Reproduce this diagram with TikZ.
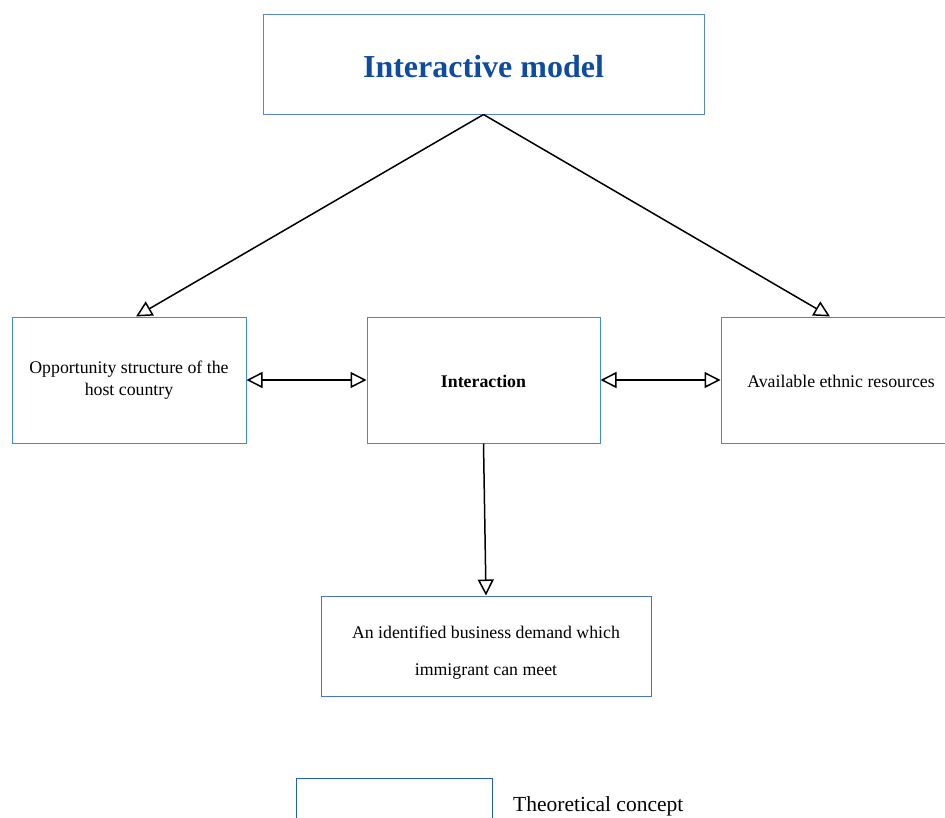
\documentclass[tikz,border=0pt]{standalone}
\usepackage{fontspec}
\setmainfont{Liberation Serif}
\usetikzlibrary{arrows.meta}
\definecolor{titleblue}{HTML}{0F4CA0}
\definecolor{framea}{HTML}{5A87C8}
\definecolor{frameb}{HTML}{3B8CD6}
\definecolor{framec}{HTML}{4A73C0}
\definecolor{framed}{HTML}{2160BC}
\begin{document}
\begin{tikzpicture}[x=1pt,y=-1pt,
  box/.style={draw, line width=1pt, rectangle, align=center, inner sep=0pt,
              font=\fontsize{17.8}{22}\selectfont},
  link/.style={line width=1.5pt, -{Triangle[open,length=16pt,width=16pt]}},
  dlink/.style={line width=1.5pt, {Triangle[open,length=16pt,width=16pt]}-{Triangle[open,length=16pt,width=16pt]}}]
  \useasboundingbox (0,0) rectangle (945,817);

  % title
  \node[box, draw=framea, minimum width=441pt, minimum height=100pt,
        font=\fontsize{32}{36}\selectfont\bfseries, text=titleblue]
        (title) at (483.5,64) {\rule{0pt}{28pt}Interactive model};

  % middle row
  \node[box, draw=frameb, minimum width=234pt, minimum height=126pt]
        (lbox) at (129,380) {Opportunity structure of the\\host country};
  \node[box, draw=frameb, minimum width=233pt, minimum height=126pt,
        font=\fontsize{17.8}{22}\selectfont\bfseries]
        (cbox) at (483.5,380) {\rule{0pt}{16pt}Interaction};
  \node[box, draw=frameb, minimum width=240pt, minimum height=126pt]
        (rbox) at (841,380) {\rule{0pt}{16pt}Available ethnic resources};

  % result
  \node[box, draw=framec, minimum width=330pt, minimum height=100pt,
        font=\fontsize{17.8}{37}\selectfont]
        (bbox) at (486,646) {\rule{0pt}{25pt}An identified business demand which\\immigrant can meet};

  % legend
  \node[box, draw=framed, minimum width=196pt, minimum height=80pt]
        (legend) at (394,818) {};
  \node[anchor=west, inner sep=0pt, font=\fontsize{21.5}{24}\selectfont]
        (legendtext) at (513,806) {Theoretical concept};

  % connectors
  \draw[link] (title.south) -- ([xshift=7pt]lbox.north);
  \draw[link] (title.south) -- ([xshift=-11pt]rbox.north);
  \draw[dlink] (lbox.east) -- (cbox.west);
  \draw[dlink] (cbox.east) -- (rbox.west);
  \draw[link] (cbox.south) -- (bbox.north);
\end{tikzpicture}
\end{document}
